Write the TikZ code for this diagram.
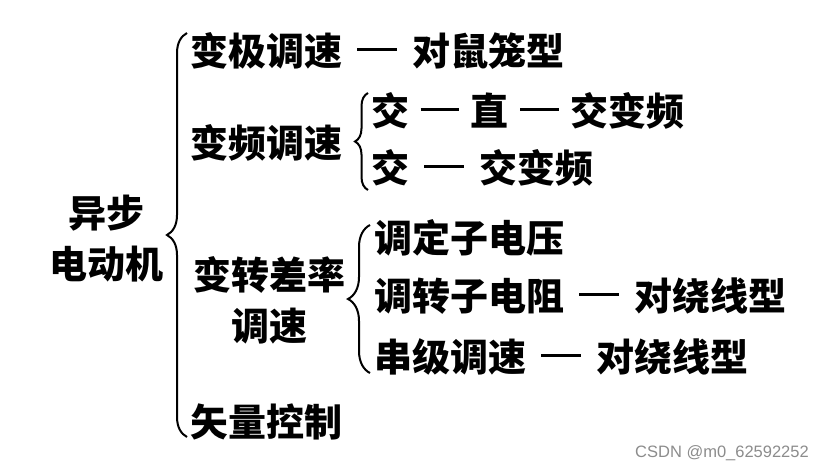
\documentclass[tikz,border=0pt]{standalone}
\usepackage{fontspec}
\newfontfamily\cjk{Noto Sans CJK SC}
\setsansfont{Liberation Sans}
\usetikzlibrary{decorations.pathreplacing}
\newcommand\dd{\hspace{0.4em}\rule[0.39em]{1.05em}{3pt}\hspace{0.4em}}
\newcommand\ddn{\hspace{0.3em}\rule[0.39em]{1.02em}{3pt}\hspace{0.3em}}
\begin{document}
\begin{tikzpicture}[x=1pt,y=-1pt,
  lbl/.style={anchor=west,inner sep=0pt,font=\cjk\bfseries\fontsize{38}{51}\selectfont},
  brc/.style={draw,line width=2pt,decorate,decoration={brace,amplitude=#1}},
  wmark/.style={anchor=west,inner sep=0pt,text=black!45,font=\sffamily\fontsize{16.5}{18}\selectfont}]
\useasboundingbox[fill=white] (0,0) rectangle (825,472);
\node[lbl,anchor=center,align=center] (motor) at (106,239) {异步\\电动机};
\node[lbl] (pole) at (190,51) {变极调速\dd 对鼠笼型};
\node[lbl] (freq) at (190,143) {变频调速};
\node[lbl] (acdcac) at (371,111) {交\ddn 直\ddn 交变频};
\node[lbl] (acac) at (371,168) {交\dd 交变频};
\node[lbl,anchor=center,align=center] (slip) at (269,300) {变转差率\\调速};
\node[lbl] (stator) at (374,238) {调定子电压};
\node[lbl] (rotor) at (374,296) {调转子电阻\dd 对绕线型};
\node[lbl] (cascade) at (374,357) {串级调速\dd 对绕线型};
\node[lbl] (vector) at (190,422) {矢量控制};
\node[wmark] (wm) at (635,453) {CSDN @m0\_62592252};
\coordinate (b1s) at (187,437); \coordinate (b1e) at (187,33);
\coordinate (b2s) at (368,190); \coordinate (b2e) at (368,93);
\coordinate (b3s) at (370,373); \coordinate (b3e) at (370,225);
\draw[brc=20pt] (b1s) -- (b1e);
\draw[brc=13pt] (b2s) -- (b2e);
\draw[brc=22pt] (b3s) -- (b3e);
\end{tikzpicture}
\end{document}
